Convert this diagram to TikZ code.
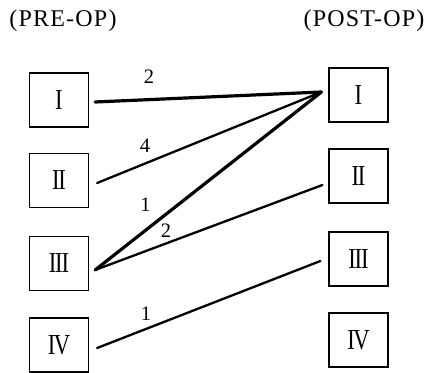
\documentclass[tikz,border=0pt]{standalone}
\usepackage{fontspec}
\setmainfont{Liberation Serif}
% Roman numerals with the serifs of neighbouring stems joined
\newcommand{\rmI}{I}
\newcommand{\rmII}{I\kern-1.4pt I}
\newcommand{\rmIII}{I\kern-1.4pt I\kern-1.4pt I}
\newcommand{\rmIV}{I\kern-1.8pt V}
\newcommand{\numeral}[1]{\scalebox{0.78}[1]{#1}}
\begin{document}
\begin{tikzpicture}[x=1pt,y=-1pt,
  stage/.style={draw, line width=1.2pt, minimum width=59pt, minimum height=54pt,
    inner sep=0pt, font=\fontsize{29}{29}\selectfont},
  head/.style={inner sep=0pt, font=\fontsize{24}{24}\selectfont},
  count/.style={inner sep=0pt, font=\fontsize{20.5}{20.5}\selectfont},
  link/.style={line width=2.3pt, line cap=round},
  heavy/.style={line width=3.2pt, line cap=round}]
\useasboundingbox (0,0) rectangle (428,372);

% column headings
\node[head] (pre)  at (63,21)  {\addfontfeature{LetterSpace=5}(PRE-OP)};
\node[head] (post) at (364,21) {\addfontfeature{LetterSpace=5}(POST-OP)};

% pre-operative classes
\node[stage] (L1) at (59,100)   {\numeral{\rmI}};
\node[stage] (L2) at (59,180.5) {\numeral{\rmII}};
\node[stage] (L3) at (59,263.5) {\numeral{\rmIII}};
\node[stage] (L4) at (59,345)   {\numeral{\rmIV}};

% post-operative classes
\node[stage] (R1) at (358.5,95)  {\numeral{\rmI}};
\node[stage] (R2) at (358.5,176) {\numeral{\rmII}};
\node[stage] (R3) at (358.5,259) {\numeral{\rmIII}};
\node[stage] (R4) at (358.5,340) {\numeral{\rmIV}};

% line ends, a little clear of the boxes
\coordinate (a1) at ([xshift=6pt,yshift=-2pt]L1.east);
\coordinate (a2) at ([xshift=8pt,yshift=-2.5pt]L2.east);
\coordinate (a3) at ([xshift=6pt,yshift=-6.5pt]L3.east);
\coordinate (a4) at ([xshift=8pt,yshift=-3pt]L4.east);
\coordinate (b1) at ([xshift=-7pt,yshift=3pt]R1.west);
\coordinate (b2) at ([xshift=-6pt,yshift=-9pt]R2.west);
\coordinate (b3) at ([xshift=-8pt,yshift=-2pt]R3.west);

% transitions
\draw[heavy] (a1) -- (b1);
\draw[link]  (a2) -- (b1);
\draw[heavy] (a3) -- (b1);
\draw[link]  (a3) -- (b2);
\draw[link]  (a4) -- (b3);

% patient counts
\node[count] (n11) at (149,77)  {2};
\node[count] (n21) at (145,146) {4};
\node[count] (n31) at (145.5,205) {1};
\node[count] (n32) at (166,231) {2};
\node[count] (n43) at (146,314) {1};
\end{tikzpicture}
\end{document}
